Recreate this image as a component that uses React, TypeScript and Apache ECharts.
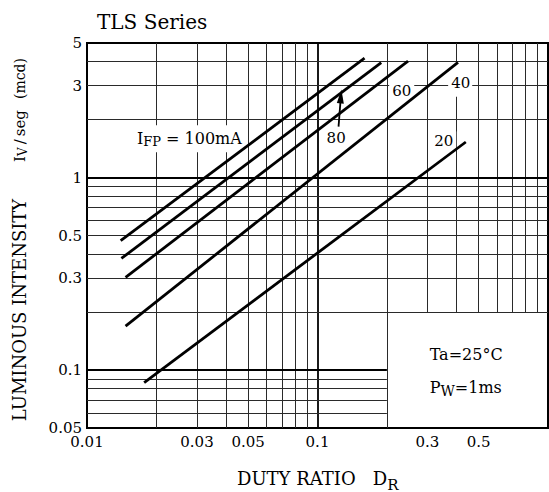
import React, { useEffect, useRef } from "react";
import * as echarts from "echarts";

// ---- axes ----
const xMin = 0.01;
const xMax = 1;
const yMin = 0.05;
const yMax = 5;
const xTickLabels = [0.01, 0.03, 0.05, 0.1, 0.3, 0.5];
const yTickLabels = [0.05, 0.1, 0.3, 0.5, 1, 3, 5];
const xGridValues = [0.02, 0.03, 0.04, 0.05, 0.06, 0.07, 0.08, 0.09, 0.1, 0.2, 0.3, 0.4, 0.5, 0.6, 0.7, 0.8, 0.9];
const yGridValues = [0.06, 0.07, 0.08, 0.09, 0.1, 0.2, 0.3, 0.4, 0.5, 0.6, 0.7, 0.8, 0.9, 1, 2, 3, 4];
const majorGridValues = [0.1, 1];
// lower-right box (duty >= 0.2, Iv <= 0.2) has no grid
const insetDuty = 0.2;
const insetIv = 0.2;

// ---- series: IFP curves (straight lines on log-log) ----
const currents = ["100", "80", "60", "40", "20"];
const dutyStart = [0.014, 0.0141, 0.0147, 0.0147, 0.0177];
const ivStart = [0.47, 0.38, 0.303, 0.169, 0.086];
const dutyEnd = [0.16, 0.189, 0.247, 0.407, 0.44];
const ivEnd = [4.17, 3.95, 4.03, 3.97, 1.53];

// ---- annotations (data coordinates) ----
const arrowFrom = [0.1234, 1.84];
const arrowTo = [0.1263, 2.64];
const ifpLabelAt = [0.0278, 1.59];
const curveLabelAt = [null, [0.1205, 1.6], [0.2319, 2.82], [0.418, 3.09], [0.3527, 1.55]];
const taLabelAt = [0.3067, 0.1202];
const pwLabelAt = [0.3067, 0.0814];

const FONT = '"DejaVu Serif", "Liberation Serif", serif';

function fmt(v: number) {
  return String(+Number(v).toPrecision(3));
}

export default function App() {
  const ref = useRef<HTMLDivElement>(null);

  useEffect(() => {
    const chart = echarts.init(ref.current!, null, { renderer: "svg" });

    const gridSegments: any[] = [];
    xGridValues.forEach((x) => {
      const major = majorGridValues.includes(x);
      gridSegments.push({
        coords: [
          [x, x > insetDuty ? insetIv : yMin],
          [x, yMax],
        ],
        lineStyle: { width: major ? 1.8 : 1, color: major ? "#000" : "#2a2a2a" },
      });
    });
    yGridValues.forEach((y) => {
      const major = majorGridValues.includes(y);
      gridSegments.push({
        coords: [
          [xMin, y],
          [y < insetIv ? insetDuty : xMax, y],
        ],
        lineStyle: { width: major ? 1.8 : 1, color: major ? "#000" : "#2a2a2a" },
      });
    });

    const curveSeries = currents.map((c, i) => ({
      type: "line",
      name: c,
      data: [
        [dutyStart[i], ivStart[i]],
        [dutyEnd[i], ivEnd[i]],
      ],
      symbol: "none",
      showSymbol: false,
      silent: true,
      z: 3,
      lineStyle: { color: "#000", width: 2.8 },
      markLine:
        i === 1
          ? {
              silent: true,
              symbol: ["none", "triangle"],
              symbolSize: [7, 14],
              label: { show: false },
              lineStyle: { color: "#000", width: 1.8, type: "solid" },
              data: [[{ coord: arrowFrom }, { coord: arrowTo }]],
            }
          : undefined,
    }));

    const axisLabelBase = {
      fontFamily: FONT,
      fontSize: 15,
      color: "#000",
      formatter: (v: number) => fmt(v),
    };

    const option: any = {
      animation: false,
      backgroundColor: "#fff",
      grid: {
        left: 87,
        right: 1,
        top: 43,
        bottom: 64,
        show: true,
        borderColor: "#000",
        borderWidth: 2,
        backgroundColor: "#fff",
        containLabel: false,
        outerBoundsMode: "none",
      },
      xAxis: {
        type: "log",
        logBase: 10,
        min: xMin,
        max: xMax,
        axisLine: { show: false },
        axisTick: { show: false },
        splitLine: { show: false },
        minorSplitLine: { show: false },
        axisLabel: { ...axisLabelBase, margin: 7, lineHeight: 13, customValues: xTickLabels },
      },
      yAxis: {
        type: "log",
        logBase: 10,
        min: yMin,
        max: yMax,
        axisLine: { show: false },
        axisTick: { show: false },
        splitLine: { show: false },
        minorSplitLine: { show: false },
        axisLabel: { ...axisLabelBase, margin: 5, lineHeight: 12, customValues: yTickLabels },
      },
      series: [
        {
          type: "lines",
          coordinateSystem: "cartesian2d",
          polyline: false,
          silent: true,
          z: 1,
          lineStyle: { color: "#333", width: 1, opacity: 1, curveness: 0 },
          data: gridSegments,
        },
        ...curveSeries,
      ],
    };

    chart.setOption(option);

    const toPx = (p: any) => chart.convertToPixel({ gridIndex: 0 } as any, p) as unknown as number[];

    const sub = (size: number, shift: number) => ({
      fontFamily: FONT,
      fontSize: size,
      fill: "#000",
      padding: [shift * 2, 0, 0, 0],
    });
    const main = (size: number) => ({ fontFamily: FONT, fontSize: size, fill: "#000" });

    // text label centred on a point, with white box (padding [t,r,b,l])
    const boxed = (at: number[], text: string, rich: any, pad: number[], z = 2) => {
      const [px, py] = toPx(at);
      return {
        type: "text",
        z,
        x: px + (pad[1] - pad[3]) / 2,
        y: py + (pad[2] - pad[0]) / 2,
        silent: true,
        style: {
          text,
          rich,
          align: "center",
          verticalAlign: "middle",
          backgroundColor: "#fff",
          padding: pad,
        },
      };
    };

    const graphics: any[] = [];

    graphics.push({
      type: "text",
      x: 97,
      y: 22,
      silent: true,
      style: { text: "TLS Series", fontFamily: FONT, fontSize: 20, fill: "#000", align: "left", verticalAlign: "middle" },
    });

    // Y axis title (rotated)
    graphics.push({
      type: "text",
      x: 19.5,
      y: 310,
      rotation: Math.PI / 2,
      silent: true,
      style: { text: "LUMINOUS INTENSITY", fontFamily: FONT, fontSize: 18, fill: "#000", align: "center", verticalAlign: "middle" },
    });
    graphics.push({
      type: "text",
      x: 19.5,
      y: 136,
      rotation: Math.PI / 2,
      silent: true,
      style: {
        text: "{m|I}{s|V}{m|\u2009/\u2009seg}",
        rich: { m: main(15), s: sub(12, 3) },
        align: "center",
        verticalAlign: "middle",
      },
    });
    graphics.push({
      type: "text",
      x: 19.5,
      y: 78.5,
      rotation: Math.PI / 2,
      silent: true,
      style: { text: "(mcd)", fontFamily: FONT, fontSize: 14, fill: "#000", align: "center", verticalAlign: "middle" },
    });

    // X axis title
    graphics.push({
      type: "text",
      x: 237,
      y: 478.5,
      silent: true,
      style: {
        text: "{m|DUTY RATIO   D}{s|R}",
        rich: { m: main(18), s: sub(15, 6) },
        align: "left",
        verticalAlign: "middle",
      },
    });

    // curve labels
    graphics.push(
      boxed(ifpLabelAt, `{m|I}{s|FP}{m| = ${currents[0]}mA}`, { m: main(16), s: sub(13, 3) }, [4, 3, 4, 3])
    );
    currents.forEach((c, i) => {
      const at = curveLabelAt[i];
      if (!at) return;
      const pad = c === "40" ? [13, 2, 6, 3] : [2, 3, 2, 3];
      graphics.push(boxed(at as number[], `{m|${c}}`, { m: main(15) }, pad));
    });

    // conditions
    const [tx, ty] = toPx(taLabelAt);
    graphics.push({
      type: "text",
      x: tx,
      y: ty,
      silent: true,
      style: { text: "{m|Ta=25°C}", rich: { m: main(16) }, align: "left", verticalAlign: "middle" },
    });
    const [wx, wy] = toPx(pwLabelAt);
    graphics.push({
      type: "text",
      x: wx,
      y: wy,
      silent: true,
      style: {
        text: "{m|P}{s|W}{m|=1ms}",
        rich: { m: main(16), s: sub(14, 4) },
        align: "left",
        verticalAlign: "middle",
      },
    });

    chart.setOption({ graphic: graphics });

    return () => chart.dispose();
  }, []);

  return <div ref={ref} style={{ position: "absolute", left: 0, top: 0, width: 549, height: 492 }} />;
}
